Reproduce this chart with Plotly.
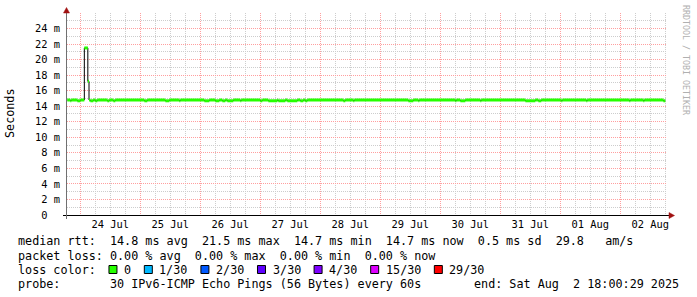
import plotly.graph_objects as go

# ---------------- data ----------------
seg_start = [
    "2025-07-23 18:48", "2025-07-23 20:00", "2025-07-23 20:24", "2025-07-23 22:48", "2025-07-24 00:00",
    "2025-07-24 01:36", "2025-07-24 03:00", "2025-07-24 03:28", "2025-07-24 04:00", "2025-07-24 05:12",
    "2025-07-24 06:00", "2025-07-24 06:48", "2025-07-24 10:48", "2025-07-24 11:36", "2025-07-24 13:12",
    "2025-07-24 14:00", "2025-07-25 01:36", "2025-07-25 02:48", "2025-07-25 10:00", "2025-07-25 11:36",
    "2025-07-25 15:36", "2025-07-25 16:00", "2025-07-26 01:36", "2025-07-26 03:36", "2025-07-26 06:00",
    "2025-07-26 07:36", "2025-07-26 08:48", "2025-07-26 10:00", "2025-07-26 10:48", "2025-07-26 13:12",
    "2025-07-26 16:00", "2025-07-26 16:24", "2025-07-27 00:00", "2025-07-27 00:48", "2025-07-27 03:12",
    "2025-07-27 06:48", "2025-07-27 07:12", "2025-07-27 10:00", "2025-07-27 10:48", "2025-07-27 14:48",
    "2025-07-27 16:00", "2025-07-27 17:12", "2025-07-27 18:00", "2025-07-27 18:48", "2025-07-28 09:12",
    "2025-07-28 10:00", "2025-07-28 13:12", "2025-07-28 13:36", "2025-07-29 11:12", "2025-07-29 13:12",
    "2025-07-29 15:12", "2025-07-29 15:36", "2025-07-30 06:00", "2025-07-30 06:24", "2025-07-30 08:00",
    "2025-07-30 10:00", "2025-07-30 16:00", "2025-07-30 16:24", "2025-07-31 10:00", "2025-07-31 14:00",
    "2025-07-31 15:12", "2025-07-31 16:24", "2025-08-01 00:24", "2025-08-01 00:48", "2025-08-01 10:24",
    "2025-08-01 10:48", "2025-08-02 03:36", "2025-08-02 04:00", "2025-08-02 09:12", "2025-08-02 09:36",
    "2025-08-02 17:12",
]
median_ms = [
    14.8, 14.7, 14.8, 14.7, 14.8,
    21.5, 17.2, 14.8, 14.7, 14.8,
    14.7, 14.8, 14.7, 14.8, 14.7,
    14.8, 14.7, 14.8, 14.7, 14.8,
    14.7, 14.8, 14.7, 14.8, 14.7,
    14.8, 14.7, 14.8, 14.7, 14.8,
    14.7, 14.8, 14.7, 14.8, 14.7,
    14.8, 14.7, 14.8, 14.7, 14.8,
    14.7, 14.8, 14.7, 14.8, 14.7,
    14.8, 14.7, 14.8, 14.7, 14.8,
    14.7, 14.8, 14.7, 14.8, 14.7,
    14.8, 14.7, 14.8, 14.7, 14.8,
    14.7, 14.8, 14.7, 14.8, 14.7,
    14.8, 14.7, 14.8, 14.7, 14.8,
    14.7,
]
data_end = "2025-08-02 18:00"
x_range = ["2025-07-23 18:40", "2025-08-02 18:40"]

y_ticks = [0, 2, 4, 6, 8, 10, 12, 14, 16, 18, 20, 22, 24]
y_ticktext = ["0  ", "2 m", "4 m", "6 m", "8 m", "10 m", "12 m", "14 m", "16 m",
              "18 m", "20 m", "22 m", "24 m"]

legend_line1 = "median rtt:  14.8 ms avg  21.5 ms max  14.7 ms min  14.7 ms now  0.5 ms sd  29.8   am/s"
legend_line2 = "packet loss: 0.00 % avg  0.00 % max  0.00 % min  0.00 % now"
legend_line3_title = "loss color:"
loss_labels = ["0", "1/30", "2/30", "3/30", "4/30", "15/30", "29/30"]
loss_colors = ["#26ff00", "#00b8ff", "#0059ff", "#5e00ff", "#7e00ff", "#dd00ff", "#ff0000"]
legend_line4 = "probe:       30 IPv6-ICMP Echo Pings (56 Bytes) every 60s"
legend_end = "end: Sat Aug  2 18:00:29 2025"
y_title = "Seconds"
watermark = "RRDTOOL / TOBI OETIKER"

# ---------------- layout constants ----------------
W, H = 697, 297
L, R, T, B = 67, 30, 13, 82
PW, PH = W - L - R, H - T - B
MONO = "DejaVu Sans Mono"
FS = 11.75
CW = FS * 0.602  # legend character advance in px


def px(x):
    return (x - L) / PW


def py(y):
    return (H - B - y) / PH


def nb(s):
    return s.replace(" ", "\u00a0")


# ---------------- traces ----------------
seg_end = seg_start[1:] + [data_end]
gx, gy = [], []
for s, e, v in zip(seg_start, seg_end, median_ms):
    gx += [s, e, None]
    gy += [v, v, None]

fig = go.Figure()
fig.add_trace(go.Scatter(
    x=seg_start + [data_end], y=median_ms + [median_ms[-1]],
    mode="lines", line=dict(color="#000000", width=1, shape="hv"),
    hoverinfo="skip", showlegend=False))
fig.add_trace(go.Scatter(
    x=gx, y=gy, mode="lines", line=dict(color=loss_colors[0], width=3),
    hoverinfo="skip", showlegend=False, connectgaps=False))

red_grid = "#ff9f9f"
gray_grid = "#cdcdcd"

fig.update_layout(
    width=W, height=H,
    margin=dict(l=L, r=R, t=T, b=B, pad=0),
    paper_bgcolor="white", plot_bgcolor="white",
    font=dict(family=MONO, color="#000000"),
    xaxis=dict(
        type="date", range=x_range, tick0="2025-07-24", dtick=86400000,
        tickformat="%d %b", ticklabelmode="period",
        showgrid=True, gridcolor=red_grid, griddash="1px,1px", gridwidth=1,
        minor=dict(dtick=21600000, tick0="2025-07-24", showgrid=True,
                   gridcolor=gray_grid, griddash="1px,1px", gridwidth=1),
        showline=False, zeroline=False, ticks="", ticklabelstandoff=2,
        tickfont=dict(family=MONO, size=10.4, color="#000000"),
        fixedrange=True,
    ),
    yaxis=dict(
        range=[0, PH / 7.77], tickmode="array", tickvals=y_ticks,
        ticktext=[nb(t) for t in y_ticktext],
        showgrid=True, gridcolor=red_grid, griddash="1px,1px", gridwidth=1,
        minor=dict(dtick=1, tick0=0, showgrid=True, gridcolor=gray_grid,
                   griddash="1px,1px", gridwidth=1),
        showline=False, zeroline=False, ticks="", ticklabelstandoff=6,
        tickfont=dict(family=MONO, size=10.4, color="#000000"),
        fixedrange=True,
    ),
)

shapes = []
# axes lines (extending slightly beyond the plot like rrdtool)
shapes.append(dict(type="line", xref="paper", yref="paper",
                   x0=px(63), x1=px(669), y0=py(215.5), y1=py(215.5),
                   line=dict(color="#000000", width=1)))
shapes.append(dict(type="line", xref="paper", yref="paper",
                   x0=px(66.5), x1=px(66.5), y0=py(219), y1=py(11),
                   line=dict(color="#707070", width=1)))
# arrows
shapes.append(dict(type="path", xref="paper", yref="paper",
                   path=f"M {px(63.5)} {py(13)} L {px(69.5)} {py(13)} L {px(66.5)} {py(7.5)} Z",
                   fillcolor="#a01010", line=dict(color="#a01010", width=0.5)))
shapes.append(dict(type="path", xref="paper", yref="paper",
                   path=f"M {px(669)} {py(212.5)} L {px(669)} {py(218.5)} L {px(674.5)} {py(215.5)} Z",
                   fillcolor="#a01010", line=dict(color="#a01010", width=0.5)))

annotations = []


def txt(x, y, s, size=FS, xanchor="left", color="#000000", angle=0):
    annotations.append(dict(xref="paper", yref="paper", x=px(x), y=py(y),
                            text=nb(s), showarrow=False, xanchor=xanchor,
                            yanchor="middle", textangle=angle,
                            font=dict(family=MONO, size=size, color=color)))


LX = 16
txt(LX, 241.5, legend_line1)
txt(LX, 255.5, legend_line2)
txt(LX, 269.5, legend_line3_title)
col = 13
for lab, colr in zip(loss_labels, loss_colors):
    bx = LX + col * CW + 1
    shapes.append(dict(type="rect", xref="paper", yref="paper",
                       x0=px(bx), x1=px(bx + 8), y0=py(265.5), y1=py(273.5),
                       fillcolor=colr, line=dict(color="#000000", width=1)))
    txt(LX + (col + 2) * CW, 269.5, lab)
    col += 2 + len(lab) + 2
txt(LX, 283.5, legend_line4)
txt(681, 283.5, legend_end, xanchor="right")

txt(10, 113, y_title, angle=-90)
annotations[-1]["xanchor"] = "center"
txt(686, 60, watermark, size=8.3, color="#b0b0b0", angle=90)
annotations[-1]["xanchor"] = "center"

fig.update_layout(shapes=shapes, annotations=annotations)

fig.write_html("out.html", config={"displayModeBar": False, "staticPlot": True})
